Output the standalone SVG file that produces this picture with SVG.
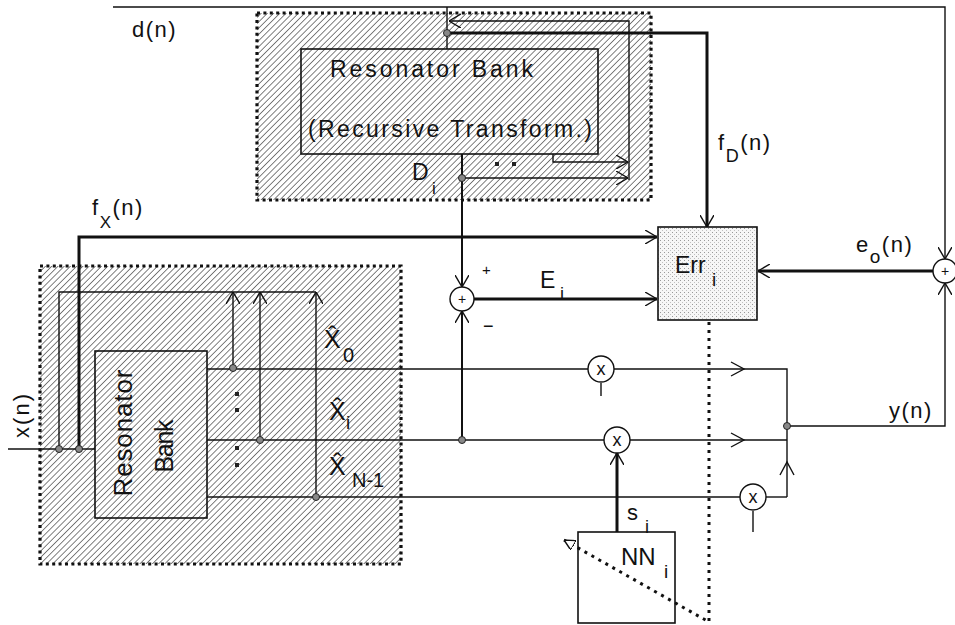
<svg xmlns="http://www.w3.org/2000/svg" width="955" height="625" viewBox="0 0 955 625">
<defs>
<style>
text{font-family:"Liberation Sans",Arial,sans-serif;fill:#111}
.ln{stroke:#111;fill:none;stroke-width:1.4}
.th{stroke:#111;fill:none;stroke-width:3}
.md{stroke:#111;fill:none;stroke-width:2}
.bd{stroke:#111;fill:none;stroke-width:3.2;stroke-dasharray:3 3.4}
.ctl{stroke:#111;fill:none;stroke-width:3;stroke-dasharray:3 5}
.box{stroke:#111;fill:none;stroke-width:1.6}
.nd{fill:#fff;stroke:#111;stroke-width:1.4}
.jn{fill:#888;stroke:#222;stroke-width:1}
.sq{fill:#222}
.lab{font-size:22px;letter-spacing:1.5px}
</style>
<pattern id="h" width="4.4" height="4.4" patternUnits="userSpaceOnUse" patternTransform="rotate(45)">
<line x1="0" y1="0" x2="0" y2="4.4" stroke="#222" stroke-width="1.15"/>
</pattern>
<pattern id="st" width="4" height="4" patternUnits="userSpaceOnUse">
<rect width="4" height="4" fill="#f6f6f6"/>
<rect x="0" y="0" width="1" height="1" fill="#999"/>
<rect x="2" y="2" width="1" height="1" fill="#c0c0c0"/>
</pattern>
<marker id="a" viewBox="0 0 12 14" refX="12" refY="7" markerWidth="12" markerHeight="14" markerUnits="userSpaceOnUse" orient="auto">
<path d="M0,0 L12,7 L0,14" fill="none" stroke="#111" stroke-width="1.4"/>
</marker>
<marker id="as" viewBox="0 0 10 10" refX="10" refY="5" markerWidth="11" markerHeight="11" markerUnits="userSpaceOnUse" orient="auto">
<path d="M0,0 L10,5 L0,10 Z" fill="#fff" stroke="#111" stroke-width="1.3" stroke-dasharray="none"/>
</marker>
</defs>
<rect width="955" height="625" fill="#fff"/>

<g id="top-bank">
<rect x="257" y="13" width="394" height="187" fill="url(#h)"/>
<rect x="257" y="13" width="394" height="187" class="bd"/>
<rect x="301" y="49" width="297" height="105" class="box"/>
<text x="330" y="77" font-size="23" textLength="203" lengthAdjust="spacing">Resonator Bank</text>
<text x="308" y="137" font-size="23" textLength="284" lengthAdjust="spacing">(Recursive Transform.)</text>
<rect x="495" y="162" width="4" height="4" class="sq"/>
<rect x="512" y="162" width="4" height="4" class="sq"/>
</g>

<g id="left-bank">
<rect x="40" y="266" width="361" height="298" fill="url(#h)"/>
<rect x="40" y="266" width="361" height="298" class="bd"/>
<rect x="95" y="351" width="112" height="167" class="box"/>
<text transform="translate(132,433) rotate(-90)" text-anchor="middle" font-size="26" textLength="127" lengthAdjust="spacing">Resonator</text>
<text transform="translate(173,446) rotate(-90)" text-anchor="middle" font-size="25" textLength="53" lengthAdjust="spacing">Bank</text>
<rect x="235" y="392" width="4" height="4" class="sq"/>
<rect x="235" y="408" width="4" height="4" class="sq"/>
<rect x="235" y="446" width="4" height="4" class="sq"/>
<rect x="235" y="463" width="4" height="4" class="sq"/>
</g>

<g id="connectors">
<path class="ln" d="M113,7 H945 V259" marker-end="url(#a)"/>
<path class="ln" d="M447,7 V49"/>
<path class="th" d="M447,33 H707 V227" marker-end="url(#a)"/>
<path class="ln" d="M629,180 V21 H449" marker-end="url(#a)"/>
<path class="ln" d="M553,154 V162 H628" marker-end="url(#a)"/>
<path class="ln" d="M462,178 H628" marker-end="url(#a)"/>
<path class="md" d="M462,154 V287" marker-end="url(#a)"/>
<path class="ln" d="M8,449 H95"/>
<path class="th" d="M79,449 V237 H657" marker-end="url(#a)"/>
<path class="ln" d="M59,449 V292 H316"/>
<path class="ln" d="M233,368 V292" marker-end="url(#a)"/>
<path class="ln" d="M260,440 V292" marker-end="url(#a)"/>
<path class="ln" d="M316,497 V292" marker-end="url(#a)"/>
<path class="ln" d="M207,369 H588"/>
<path class="ln" d="M614,369 H787 V497"/>
<path class="ln" d="M207,440 H604"/>
<path class="ln" d="M630,440 H787"/>
<path class="ln" d="M207,497 H740"/>
<path class="ln" d="M766,497 H787"/>
<path class="ln" d="M731,362 L744,369 L731,376"/>
<path class="ln" d="M731,433 L744,440 L731,447"/>
<path class="ln" d="M780,475 L787,462 L794,475"/>
<path class="ln" d="M601,383 V396"/>
<path class="ln" d="M753,511 V532"/>
<path class="md" d="M462,440 V311" marker-end="url(#a)"/>
<path class="th" d="M474,299 H657" marker-end="url(#a)"/>
<path class="th" d="M933,271 H758" marker-end="url(#a)"/>
<path class="ln" d="M787,426 H945 V283" marker-end="url(#a)"/>
<path class="th" d="M617,532 V453" marker-end="url(#a)"/>
<path class="ctl" d="M709,322 V622 L564,540" marker-end="url(#as)"/>
<circle class="jn" cx="447" cy="33" r="3.5"/>
<circle class="jn" cx="462" cy="178" r="3.5"/>
<circle class="jn" cx="59" cy="449" r="3.5"/>
<circle class="jn" cx="79" cy="449" r="3.5"/>
<circle class="jn" cx="233" cy="368" r="3.5"/>
<circle class="jn" cx="260" cy="440" r="3.5"/>
<circle class="jn" cx="316" cy="497" r="3.5"/>
<circle class="jn" cx="462" cy="440" r="3.5"/>
<circle class="jn" cx="787" cy="426" r="3.5"/>
</g>

<g id="err">
<rect x="658" y="227" width="99" height="93" fill="url(#st)" stroke="#111" stroke-width="1.6"/>
<text x="675" y="273" font-size="23">Err<tspan x="712" y="286" font-size="19">i</tspan></text>
</g>

<g id="nn">
<rect x="578" y="532" width="97" height="91" fill="none" stroke="#111" stroke-width="1.6"/>
<text x="621" y="565" font-size="24">NN<tspan x="664" y="578" font-size="19">i</tspan></text>
</g>

<g id="sum-error">
<circle class="nd" cx="462" cy="299" r="12"/>
<text x="462" y="304" font-size="14" text-anchor="middle">+</text>
</g>
<g id="sum-output">
<circle class="nd" cx="945" cy="271" r="12"/>
<text x="945" y="276" font-size="14" text-anchor="middle">+</text>
</g>
<g id="mul-0">
<circle class="nd" cx="601" cy="369" r="13"/>
<text x="601" y="375" font-size="18" text-anchor="middle">x</text>
</g>
<g id="mul-i">
<circle class="nd" cx="617" cy="440" r="13"/>
<text x="617" y="446" font-size="18" text-anchor="middle">x</text>
</g>
<g id="mul-n1">
<circle class="nd" cx="753" cy="497" r="13"/>
<text x="753" y="503" font-size="18" text-anchor="middle">x</text>
</g>

<g id="labels">
<text class="lab" x="132" y="37">d(n)</text>
<text class="lab" x="92" y="215" font-size="21">f<tspan dy="13" font-size="17">X</tspan><tspan dy="-13">(n)</tspan></text>
<text class="lab" x="718" y="150" font-size="21">f<tspan dy="12" font-size="18">D</tspan><tspan dy="-12">(n)</tspan></text>
<text class="lab" x="856" y="252" font-size="23">e<tspan dy="11" font-size="19">o</tspan><tspan dy="-11">(n)</tspan></text>
<text class="lab" x="889" y="418">y(n)</text>
<text x="540" y="288" font-size="23">E<tspan x="560" y="300" font-size="18">i</tspan></text>
<text x="412" y="180" font-size="23">D<tspan x="432" y="194" font-size="17">i</tspan></text>
<text x="627" y="520" font-size="22">s<tspan x="645" y="533" font-size="18">i</tspan></text>
<text x="482" y="275" font-size="15">+</text>
<text x="483" y="332" font-size="18">−</text>
<text transform="translate(29,416) rotate(-90)" text-anchor="middle" font-size="22" textLength="44" lengthAdjust="spacing">x(n)</text>
<text x="324" y="348" font-size="25">X̂<tspan x="343" y="362" font-size="20">0</tspan></text>
<text x="329" y="420" font-size="25">X̂<tspan x="346" y="429" font-size="19">i</tspan></text>
<text x="329" y="475" font-size="25">X̂<tspan x="352" y="487" font-size="20">N-1</tspan></text>
</g>
</svg>
